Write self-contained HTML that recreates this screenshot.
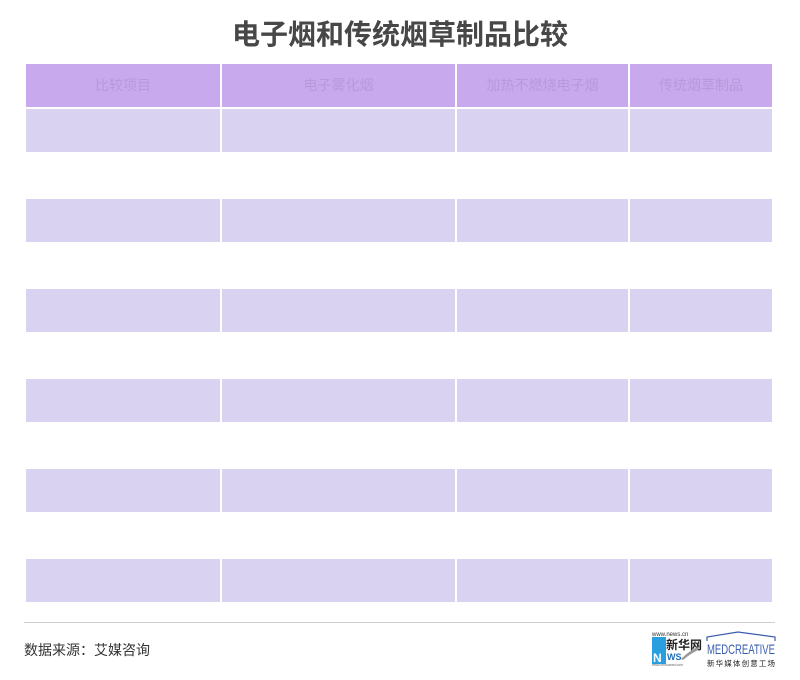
<!DOCTYPE html>
<html><head><meta charset="utf-8">
<style>
html,body{margin:0;padding:0;background:#fff;}
body{width:800px;height:680px;position:relative;overflow:hidden;font-family:"Liberation Sans","Noto Sans CJK SC",sans-serif;}
.title{position:absolute;left:0;top:15px;width:800px;text-align:center;font-size:28px;font-weight:bold;color:#474747;line-height:40px;}
.c{position:absolute;}
.h{background:#c8a9ee;color:#b998da;font-size:14px;text-align:center;line-height:43px;height:43px;}
.r{background:#d9d2f0;height:43px;}
.line{position:absolute;left:24px;top:622px;width:751px;height:1px;background:#cfcfcf;}
.src{position:absolute;left:24px;top:640px;font-size:14px;color:#333;line-height:20px;}
</style></head><body>
<div class="title">电子烟和传统烟草制品比较</div>

<div class="c h" style="left:26px;top:64px;width:194px;">比较项目</div>
<div class="c h" style="left:222px;top:64px;width:233px;">电子雾化烟</div>
<div class="c h" style="left:457px;top:64px;width:171px;">加热不燃烧电子烟</div>
<div class="c h" style="left:630px;top:64px;width:142px;">传统烟草制品</div>

<div class="c r" style="left:26px;top:109px;width:194px;"></div><div class="c r" style="left:222px;top:109px;width:233px;"></div><div class="c r" style="left:457px;top:109px;width:171px;"></div><div class="c r" style="left:630px;top:109px;width:142px;"></div>
<div class="c r" style="left:26px;top:199px;width:194px;"></div><div class="c r" style="left:222px;top:199px;width:233px;"></div><div class="c r" style="left:457px;top:199px;width:171px;"></div><div class="c r" style="left:630px;top:199px;width:142px;"></div>
<div class="c r" style="left:26px;top:289px;width:194px;"></div><div class="c r" style="left:222px;top:289px;width:233px;"></div><div class="c r" style="left:457px;top:289px;width:171px;"></div><div class="c r" style="left:630px;top:289px;width:142px;"></div>
<div class="c r" style="left:26px;top:379px;width:194px;"></div><div class="c r" style="left:222px;top:379px;width:233px;"></div><div class="c r" style="left:457px;top:379px;width:171px;"></div><div class="c r" style="left:630px;top:379px;width:142px;"></div>
<div class="c r" style="left:26px;top:469px;width:194px;"></div><div class="c r" style="left:222px;top:469px;width:233px;"></div><div class="c r" style="left:457px;top:469px;width:171px;"></div><div class="c r" style="left:630px;top:469px;width:142px;"></div>
<div class="c r" style="left:26px;top:559px;width:194px;"></div><div class="c r" style="left:222px;top:559px;width:233px;"></div><div class="c r" style="left:457px;top:559px;width:171px;"></div><div class="c r" style="left:630px;top:559px;width:142px;"></div>

<div class="line"></div>
<div class="src">数据来源：艾媒咨询</div>

<svg style="position:absolute;left:645px;top:626px;" width="140" height="46" viewBox="645 626 140 46">
  <text x="652" y="636" font-size="6" fill="#333" font-family="Liberation Sans, sans-serif">www.news.cn</text>
  <rect x="652" y="637" width="14" height="27" fill="#2a9fe0"/>
  <text x="653" y="662" font-size="12" font-weight="bold" fill="#fff" font-family="Liberation Sans, sans-serif">N</text>
  <text x="666" y="649" font-size="12" font-weight="bold" fill="#222" font-family="Liberation Sans, Noto Sans CJK SC, sans-serif">新华网</text>
  <text x="667" y="660" font-size="9" font-weight="bold" fill="#1d6fb8" font-family="Liberation Sans, sans-serif">WS</text>
  <path d="M681 659 Q690 650 700 646 L698 650 Q690 654 683 660 Z" fill="#999"/>
  <text x="652" y="666" font-size="3.5" fill="#666" font-family="Liberation Sans, sans-serif">www.xinhuanet.com</text>
  <path d="M707 641 L707 637 L738 632 L775 637 L775 641" fill="none" stroke="#3a5cb0" stroke-width="1.2"/>
  <text x="707" y="654" font-size="14" fill="#3a5cb0" font-family="Liberation Sans, sans-serif" textLength="68" lengthAdjust="spacingAndGlyphs">MEDCREATIVE</text>
  <text x="707" y="666" font-size="7.5" fill="#222" font-family="Liberation Sans, Noto Sans CJK SC, sans-serif" textLength="68" lengthAdjust="spacing">新华媒体创意工场</text>
</svg>
</body></html>
